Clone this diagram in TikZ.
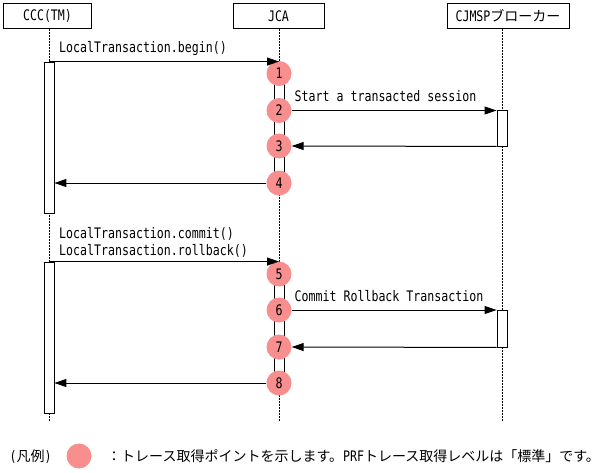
\documentclass[tikz,border=0pt]{standalone}
\usepackage{fontspec}
\setmainfont[FakeStretch=0.8]{DejaVu Sans Mono}
\newfontfamily\jp{Noto Sans CJK JP}
\usetikzlibrary{arrows.meta}
\definecolor{tracepink}{HTML}{F88E8E}
\begin{document}
\begin{tikzpicture}[x=1pt,y=-1pt,
  txt/.style={font=\fontsize{14.5}{16}\selectfont, inner sep=0pt},
  obj/.style={txt, draw, line width=0.9pt, minimum height=25pt, fill=white},
  life/.style={line width=0.8pt, dash pattern=on 2pt off 1pt},
  act/.style={draw, line width=0.9pt, fill=white, minimum width=10pt, inner sep=0pt},
  pt/.style={circle, fill=tracepink, minimum size=25pt, inner sep=0pt, txt},
  msg/.style={line width=1pt, -{Triangle[length=12pt,width=8pt]}},
  lbl/.style={txt, anchor=west}]
\useasboundingbox (0,0) rectangle (612,473);
% objects
\node[obj, minimum width=88pt] (ccc) at (47.5,16) {CCC(TM)};
\node[obj, minimum width=91pt] (jca) at (278.5,16) {JCA};
\node[obj, minimum width=122pt] (cjmsp) at (508,16) {CJMSP{\jp\fontsize{14}{16}\selectfont ブローカー}};
% lifeline ends
\coordinate (cl) at (49,421);
\coordinate (jl) at (279,421);
\coordinate (ml) at (502,421);
\draw[life] (cl |- ccc.south) -- (cl);
\draw[life] (jl |- jca.south) -- (jl);
\draw[life] (ml |- cjmsp.south) -- (ml);
% activations
\node[act, minimum height=151pt] (ca1) at (49,137.5) {};
\node[act, minimum height=151pt] (ca2) at (49,337.5) {};
\node[act, minimum height=109.5pt] (ja1) at (279,128.25) {};
\node[act, minimum height=109pt] (ja2) at (279,328.5) {};
\node[act, minimum height=36pt] (cb1) at (502,128) {};
\node[act, minimum height=37pt] (cb2) at (502,328.5) {};
% trace points
\node[pt] (p1) at (279,73.5) {1};
\node[pt] (p2) at (279,110.5) {2};
\node[pt] (p3) at (279,146) {3};
\node[pt] (p4) at (279,183) {4};
\node[pt] (p5) at (279,274) {5};
\node[pt] (p6) at (279,310) {6};
\node[pt] (p7) at (279,347) {7};
\node[pt] (p8) at (279,383) {8};
% messages
\draw[msg] (ca1.north) -- (ca1.north -| jl);
\draw[msg] (p2.east) -- (p2 -| cb1.west);
\draw[msg] (cb1.south west) -- (p3.east);
\draw[msg] (p4.west) -- (p4 -| ca1.east);
\draw[msg] (ca2.north) -- (ca2.north -| jl);
\draw[msg] (p6.east) -- (p6 -| cb2.west);
\draw[msg] (cb2.south west) -- (p7.east);
\draw[msg] (p8.west) -- (p8 -| ca2.east);
% labels
\node[lbl] (l1) at (59,48.5) {LocalTransaction.begin()};
\node[lbl] (l2) at (294.5,96.5) {Start a transacted session};
\node[lbl] (l3) at (59,234) {LocalTransaction.commit()};
\node[lbl] (l4) at (59,250.5) {LocalTransaction.rollback()};
\node[lbl] (l5) at (294.5,296.5) {Commit Rollback Transaction};
% legend
\node[lbl] (lg) at (9.5,456.5) {({\jp\fontsize{14}{16}\selectfont 凡例})};
\node[pt] (lc) at (79,456) {};
\node[lbl] (lt) at (107,456.5) {{\jp\fontsize{14}{16}\selectfont ：トレース取得ポイントを示します。}PRF{\jp\fontsize{14}{16}\selectfont トレース取得レベルは「標準」です。}};
\end{tikzpicture}
\end{document}
